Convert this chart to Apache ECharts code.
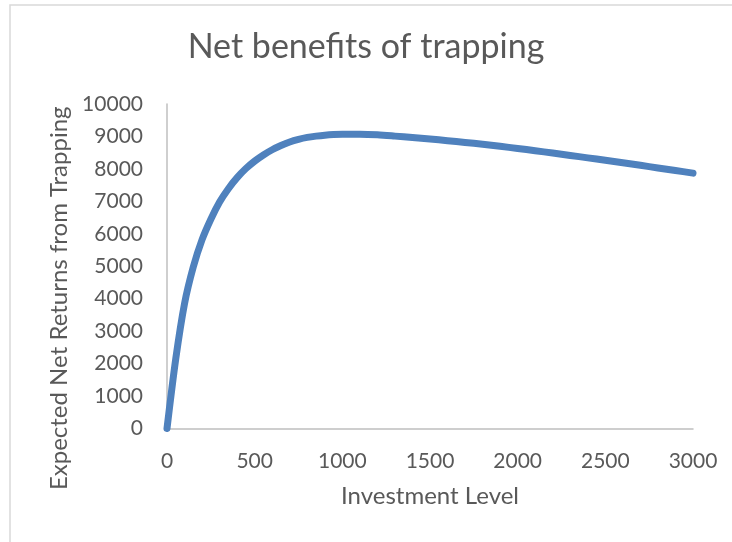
<!DOCTYPE html>
<html>
<head>
<meta charset="utf-8">
<title>Net benefits of trapping</title>
<script src="https://cdn.jsdelivr.net/npm/echarts@6/dist/echarts.min.js"></script>
<style>
  html, body { margin: 0; padding: 0; background: #ffffff; }
  #chart { width: 732px; height: 542px; }
</style>
</head>
<body>
<div id="chart"></div>
<script>
// Investment levels (x) and expected net returns (y)
const investment = [0, 50, 100, 150, 200, 250, 300, 350, 400, 450, 500, 550, 600, 650, 700, 750, 800, 850, 900, 950, 1000,
  1100, 1200, 1300, 1400, 1500, 1600, 1700, 1800, 1900, 2000, 2100, 2200, 2300, 2400, 2500, 2600, 2700, 2800, 2900, 3000];
const netReturns = [0, 2150, 3850, 4980, 5820, 6450, 6980, 7390, 7730, 8010, 8240, 8430, 8590, 8720, 8830, 8910, 8970, 9010, 9040, 9058, 9065,
  9068, 9050, 9010, 8965, 8920, 8870, 8815, 8760, 8695, 8630, 8560, 8490, 8415, 8340, 8265, 8190, 8110, 8030, 7950, 7870];

const xTicks = [0, 500, 1000, 1500, 2000, 2500, 3000];
const yTicks = [0, 1000, 2000, 3000, 4000, 5000, 6000, 7000, 8000, 9000, 10000];

const titleText = 'Net benefits of trapping';
const xName = 'Investment Level';
const yName = 'Expected Net Returns from Trapping';

const textColor = '#595959';
const font = 'Lato, "Open Sans", sans-serif';
const plain = v => String(v);

const chart = echarts.init(document.getElementById('chart'), null, { renderer: 'canvas' });

chart.setOption({
  animation: false,
  backgroundColor: '#ffffff',
  graphic: [{
    type: 'rect',
    shape: { x: 10, y: 5, width: 760, height: 600 },
    style: { fill: 'none', stroke: '#d9d9d9', lineWidth: 1.5 },
    silent: true,
    z: -1
  }],
  title: {
    text: titleText,
    left: 'center',
    top: 25,
    textStyle: { fontFamily: font, fontSize: 34, fontWeight: 'normal', color: textColor }
  },
  grid: { left: 167, right: 39, top: 104, bottom: 113.5, containLabel: false },
  xAxis: {
    type: 'value',
    min: xTicks[0],
    max: xTicks[xTicks.length - 1],
    interval: xTicks[1] - xTicks[0],
    name: xName,
    nameLocation: 'middle',
    nameGap: 56,
    nameTextStyle: { fontFamily: font, fontSize: 24, color: textColor },
    axisLine: { show: true, lineStyle: { color: '#bfbfbf', width: 1.5 } },
    axisTick: { show: false },
    splitLine: { show: false },
    axisLabel: { margin: 22, fontFamily: font, fontSize: 21, color: textColor, formatter: plain }
  },
  yAxis: {
    type: 'value',
    min: yTicks[0],
    max: yTicks[yTicks.length - 1],
    interval: yTicks[1] - yTicks[0],
    name: yName,
    nameLocation: 'middle',
    nameGap: 90,
    nameTextStyle: { fontFamily: font, fontSize: 24, color: textColor, padding: [0, 64, 0, 0] },
    axisLine: { show: true, lineStyle: { color: '#bfbfbf', width: 1.5 } },
    axisTick: { show: false },
    splitLine: { show: false },
    axisLabel: { margin: 24, fontFamily: font, fontSize: 21, color: textColor, formatter: plain }
  },
  series: [{
    type: 'line',
    data: investment.map((x, i) => [x, netReturns[i]]),
    smooth: 0.3,
    showSymbol: false,
    lineStyle: { color: '#4f81bd', width: 7, cap: 'round', join: 'round' },
    itemStyle: { color: '#4f81bd' }
  }]
});
</script>
</body>
</html>
